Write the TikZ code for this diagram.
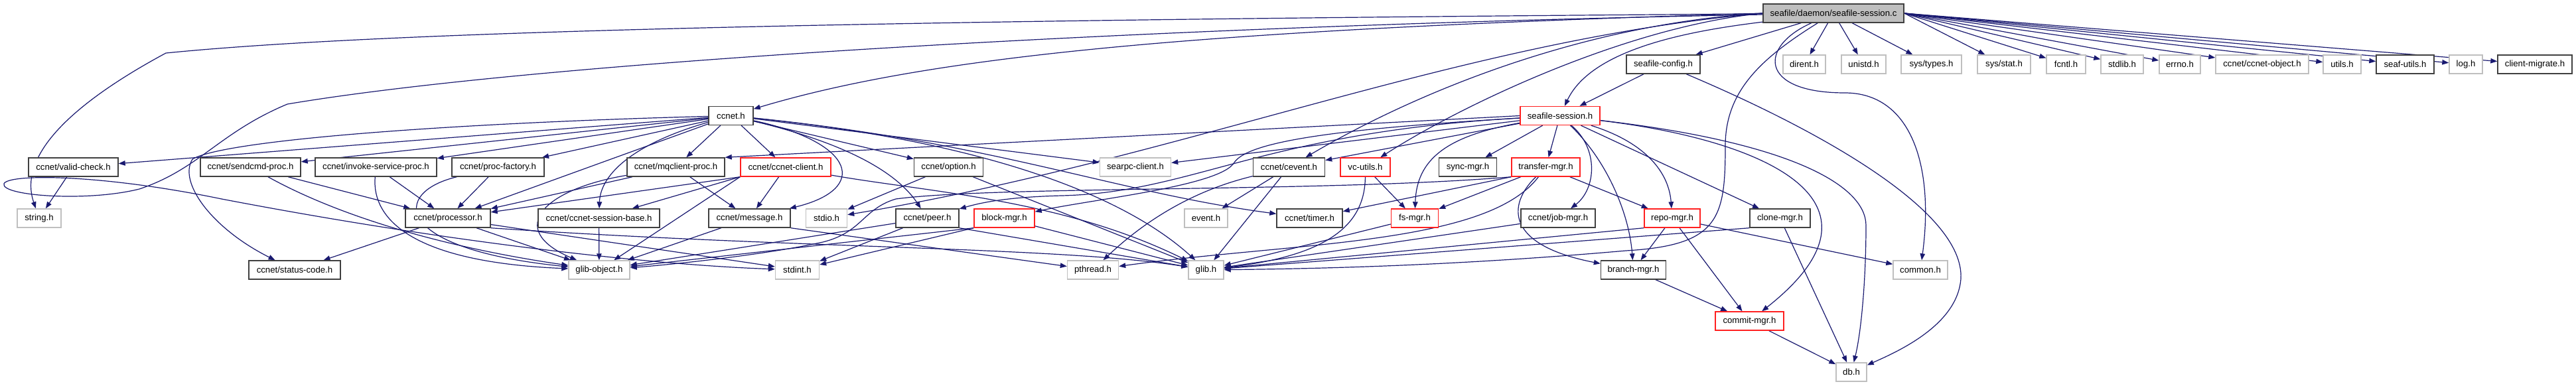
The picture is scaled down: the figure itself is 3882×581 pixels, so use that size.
\documentclass[tikz,border=0pt]{standalone}
\usepackage{fontspec}
\setmainfont{Liberation Sans}
\usetikzlibrary{arrows.meta}
\pgfdeclarelayer{edges}
\pgfsetlayers{edges,main}
\definecolor{edgec}{HTML}{191970}
\definecolor{grayc}{HTML}{BFBFBF}
\definecolor{docc}{HTML}{404040}
\definecolor{truncc}{HTML}{FF2020}
\begin{document}
\begin{tikzpicture}[x=1pt,y=-1pt,
  fbase/.style={rectangle,minimum height=28pt,inner xsep=2pt,inner ysep=0pt,line width=1.4pt,fill=white,text=black,font=\fontsize{13.2}{15}\selectfont},
  fdoc/.style={fbase,draw=docc},
  fund/.style={fbase,draw=grayc},
  ftrunc/.style={fbase,draw=truncc},
  fmain/.style={fbase,draw=docc,fill=grayc},
  incl/.style={draw=edgec,line width=1.2pt,-{Triangle[length=10pt,width=7.5pt]}}]
\useasboundingbox (0,0) rectangle (3882,581);
% row 0
\node[fmain,minimum width=212pt] (main) at (2763,20) {seafile/daemon/seafile-session.c};
% row 1
\node[fdoc,minimum width=111pt] (cfg) at (2506.5,97) {seafile-config.h};
\node[fund,minimum width=64pt] (dirent) at (2719,97) {dirent.h};
\node[fund,minimum width=67pt] (unistd) at (2808.5,97) {unistd.h};
\node[fund,minimum width=91pt] (systypes) at (2910.5,97) {sys/types.h};
\node[fund,minimum width=80pt] (sysstat) at (3020,97) {sys/stat.h};
\node[fund,minimum width=59pt] (fcntl) at (3113.5,97) {fcntl.h};
\node[fund,minimum width=64pt] (stdlib) at (3198,97) {stdlib.h};
\node[fund,minimum width=62pt] (errno) at (3285,97) {errno.h};
\node[fund,minimum width=140pt] (cobj) at (3409,97) {ccnet/ccnet-object.h};
\node[fund,minimum width=57pt] (utils) at (3529.5,97) {utils.h};
\node[fdoc,minimum width=87pt] (seafutils) at (3624.5,97) {seaf-utils.h};
\node[fund,minimum width=50pt] (log) at (3716,97) {log.h};
\node[fdoc,minimum width=112pt] (migrate) at (3820,97) {client-migrate.h};
% row 2
\node[fdoc,minimum width=67pt] (ccnet) at (1101.5,174.5) {ccnet.h};
\node[ftrunc,minimum width=120pt] (sess) at (2351,174.5) {seafile-session.h};
% row 3
\node[fdoc,minimum width=135pt] (valid) at (110.5,252) {ccnet/valid-check.h};
\node[fdoc,minimum width=151pt] (sendcmd) at (377.5,252) {ccnet/sendcmd-proc.h};
\node[fdoc,minimum width=183pt] (invoke) at (566.5,252) {ccnet/invoke-service-proc.h};
\node[fdoc,minimum width=139pt] (procf) at (750.5,252) {ccnet/proc-factory.h};
\node[fdoc,minimum width=147pt] (mqc) at (1018.5,252) {ccnet/mqclient-proc.h};
\node[ftrunc,minimum width=136pt] (client) at (1184,252) {ccnet/ccnet-client.h};
\node[fdoc,minimum width=104pt] (option) at (1429.5,252) {ccnet/option.h};
\node[fund,minimum width=107pt] (searpc) at (1711,252) {searpc-client.h};
\node[fdoc,minimum width=108pt] (cevent) at (1942.5,252) {ccnet/cevent.h};
\node[ftrunc,minimum width=75pt] (vcutils) at (2057.5,252) {vc-utils.h};
\node[fdoc,minimum width=87pt] (sync) at (2212,252) {sync-mgr.h};
\node[ftrunc,minimum width=103pt] (transfer) at (2329.5,252) {transfer-mgr.h};
% row 4
\node[fund,minimum width=66pt] (string) at (59,329) {string.h};
\node[fdoc,minimum width=128pt] (proc) at (675,329) {ccnet/processor.h};
\node[fdoc,minimum width=183pt] (sbase) at (902.5,329) {ccnet/ccnet-session-base.h};
\node[fdoc,minimum width=123pt] (message) at (1129.5,329) {ccnet/message.h};
\node[fund,minimum width=62pt] (stdio) at (1245.5,329) {stdio.h};
\node[fdoc,minimum width=95pt] (peer) at (1397.5,329) {ccnet/peer.h};
\node[ftrunc,minimum width=91pt] (block) at (1513.5,329) {block-mgr.h};
\node[fund,minimum width=65pt] (event) at (1817.5,329) {event.h};
\node[fdoc,minimum width=99pt] (timer) at (1973.5,329) {ccnet/timer.h};
\node[ftrunc,minimum width=71pt] (fs) at (2132,329) {fs-mgr.h};
\node[fdoc,minimum width=112pt] (job) at (2348,329) {ccnet/job-mgr.h};
\node[ftrunc,minimum width=84pt] (repo) at (2520,329) {repo-mgr.h};
\node[fdoc,minimum width=91pt] (clone) at (2682.5,329) {clone-mgr.h};
% row 5
\node[fdoc,minimum width=138pt] (status) at (444,407) {ccnet/status-code.h};
\node[fund,minimum width=92pt] (gobj) at (903,407) {glib-object.h};
\node[fund,minimum width=66pt] (stdint) at (1201.5,407) {stdint.h};
\node[fund,minimum width=77pt] (pthread) at (1647,407) {pthread.h};
\node[fund,minimum width=53pt] (glib) at (1817.5,407) {glib.h};
\node[fdoc,minimum width=98pt] (branch) at (2461.5,407) {branch-mgr.h};
\node[fund,minimum width=82pt] (common) at (2894,407) {common.h};
% rows 6, 7
\node[ftrunc,minimum width=103pt] (commit) at (2636.5,484) {commit-mgr.h};
\node[fund,minimum width=46pt] (db) at (2790,561) {db.h};

\begin{pgfonlayer}{edges}
\fill[white] (0,0) rectangle (3882,581);
% seafile-session.c
\draw[incl] (main) .. controls (1400,30) and (600,45) .. (250,80) .. controls (120,150) and (25,230) .. (string);
\draw[incl] (main) .. controls (1700,40) and (800,95) .. (433,157) .. controls (330,200) and (300,255) .. (210,285) .. controls (130,305) and (0,295) .. (6,277) .. controls (12,262) and (150,262) .. (334,300) .. controls (700,370) and (1000,400) .. (stdint);
\draw[incl] (main.west) .. controls (1800,45) and (1400,85) .. (ccnet);
\draw[incl] (main.west) .. controls (2200,60) and (1780,240) .. (stdio);
\draw[incl] (main.west) .. controls (2400,35) and (2150,130) .. (cevent);
\draw[incl] (main.west) .. controls (2450,40) and (2200,160) .. (vcutils);
\draw[incl] (main) -- (cfg);
\draw[incl] (main) .. controls (2560,45) and (2400,70) .. (sess);
\draw[incl] (main) -- (dirent);
\draw[incl] (main) -- (unistd);
\draw[incl] (main) -- (systypes);
\draw[incl] (main.east) -- (sysstat);
\draw[incl] (main.east) -- (fcntl);
\draw[incl] (main.east) -- (stdlib);
\draw[incl] (main.east) -- (errno);
\draw[incl] (main.east) -- (cobj);
\draw[incl] (main.east) -- (utils);
\draw[incl] (main.east) -- (seafutils);
\draw[incl] (main.east) -- (log);
\draw[incl] (main.east) -- (migrate);
\draw[incl] (main) .. controls (2650,70) and (2650,140) .. (2780,140) .. controls (2880,140) and (2915,250) .. (common);
\draw[incl] (main) .. controls (2650,90) and (2600,140) .. (2600,220) .. controls (2600,330) and (2590,370) .. (2450,378) .. controls (2200,400) and (2000,405) .. (glib);
% seafile-config.h
\draw[incl] (cfg) -- (sess);
\draw[incl] (cfg) .. controls (2750,200) and (2960,320) .. (2955,420) .. controls (2950,490) and (2860,530) .. (db);
% ccnet.h
\draw[incl] (ccnet) -- (valid);
\draw[incl] (ccnet) -- (sendcmd);
\draw[incl] (ccnet) -- (invoke);
\draw[incl] (ccnet) -- (procf);
\draw[incl] (ccnet) -- (proc);
\draw[incl] (ccnet) .. controls (960,215) and (905,260) .. (sbase);
\draw[incl] (ccnet) -- (mqc);
\draw[incl] (ccnet) -- (client);
\draw[incl] (ccnet) .. controls (1290,215) and (1310,285) .. (message);
\draw[incl] (ccnet) .. controls (1250,210) and (1345,250) .. (peer);
\draw[incl] (ccnet) -- (option);
\draw[incl] (ccnet) -- (searpc);
\draw[incl] (ccnet) .. controls (1500,215) and (1680,290) .. (timer);
\draw[incl] (ccnet) .. controls (1500,215) and (1700,300) .. (glib);
\draw[incl] (ccnet) .. controls (700,185) and (340,210) .. (290,240) .. controls (268,275) and (320,345) .. (status);
% level 3
\draw[incl] (valid) -- (string);
\draw[incl] (sendcmd) -- (proc);
\draw[incl] (sendcmd) .. controls (500,320) and (650,370) .. (gobj);
\draw[incl] (invoke) -- (proc);
\draw[incl] (invoke) .. controls (560,330) and (620,395) .. (gobj);
\draw[incl] (procf) -- (proc);
\draw[incl] (procf) .. controls (590,290) and (590,375) .. (gobj);
\draw[incl] (mqc) -- (proc);
\draw[incl] (mqc) .. controls (820,285) and (760,345) .. (gobj);
\draw[incl] (mqc) -- (message);
\draw[incl] (client.south west) -- (proc);
\draw[incl] (client.south west) -- (sbase);
\draw[incl] (client.south west) -- (gobj);
\draw[incl] (client) -- (message);
\draw[incl] (client) .. controls (1400,290) and (1600,300) .. (glib);
\draw[incl] (option) -- (stdio);
\draw[incl] (option) -- (glib);
\draw[incl] (cevent) -- (event);
\draw[incl] (cevent) -- (glib);
\draw[incl] (cevent) .. controls (1850,275) and (1760,300) .. (pthread);
\draw[incl] (vcutils) -- (fs);
\draw[incl] (vcutils) .. controls (2057,340) and (2000,385) .. (glib);
\draw[incl] (transfer) -- (fs);
\draw[incl] (transfer.south west) -- (timer);
\draw[incl] (transfer) .. controls (2270,310) and (2270,370) .. (branch);
\draw[incl] (transfer) -- (repo);
\draw[incl] (transfer) .. controls (2240,370) and (1950,365) .. (pthread);
\draw[incl] (transfer.south west) .. controls (2000,290) and (1500,280) .. (1350,300) .. controls (1300,315) and (1300,350) .. (1240,365) .. controls (1150,385) and (1000,400) .. (gobj);
% seafile-session.h
\draw[incl] (sess.west) -- (mqc.north east);
\draw[incl] (sess) -- (searpc);
\draw[incl] (sess) -- (cevent);
\draw[incl] (sess) .. controls (1900,200) and (1800,290) .. (1600,295) .. controls (1520,297) and (1480,305) .. (peer);
\draw[incl] (sess) .. controls (2000,195) and (1880,215) .. (1860,245) .. controls (1840,280) and (1650,300) .. (block);
\draw[incl] (sess) .. controls (2180,205) and (2135,240) .. (fs);
\draw[incl] (sess) -- (sync);
\draw[incl] (sess) -- (transfer);
\draw[incl] (sess) .. controls (2410,225) and (2405,285) .. (job);
\draw[incl] (sess) .. controls (2420,240) and (2455,320) .. (branch);
\draw[incl] (sess) .. controls (2480,215) and (2515,260) .. (repo);
\draw[incl] (sess) -- (clone);
\draw[incl] (sess) .. controls (2650,210) and (2870,300) .. (commit);
\draw[incl] (sess) .. controls (2700,215) and (2812,280) .. (2812,340) .. controls (2812,420) and (2805,500) .. (db);
% level 4
\draw[incl] (proc) -- (status);
\draw[incl] (proc) -- (gobj);
\draw[incl] (proc) -- (stdint);
\draw[incl] (proc.south east) .. controls (1200,375) and (1600,372) .. (glib);
\draw[incl] (sbase) -- (gobj);
\draw[incl] (message) -- (gobj);
\draw[incl] (message.south east) -- (pthread);
\draw[incl] (peer) -- (stdint);
\draw[incl] (peer) -- (gobj);
\draw[incl] (peer.south east) -- (glib);
\draw[incl] (block.south west) -- (stdint);
\draw[incl] (block.south west) -- (gobj);
\draw[incl] (block) -- (glib);
\draw[incl] (fs) -- (glib);
\draw[incl] (job) -- (glib);
\draw[incl] (repo.south west) -- (glib);
\draw[incl] (repo) -- (branch);
\draw[incl] (repo) -- (commit);
\draw[incl] (repo) -- (common);
\draw[incl] (clone.south west) -- (glib);
\draw[incl] (clone) -- (db);
\draw[incl] (branch) -- (commit);
\draw[incl] (commit) -- (db);
\end{pgfonlayer}
\end{tikzpicture}
\end{document}
